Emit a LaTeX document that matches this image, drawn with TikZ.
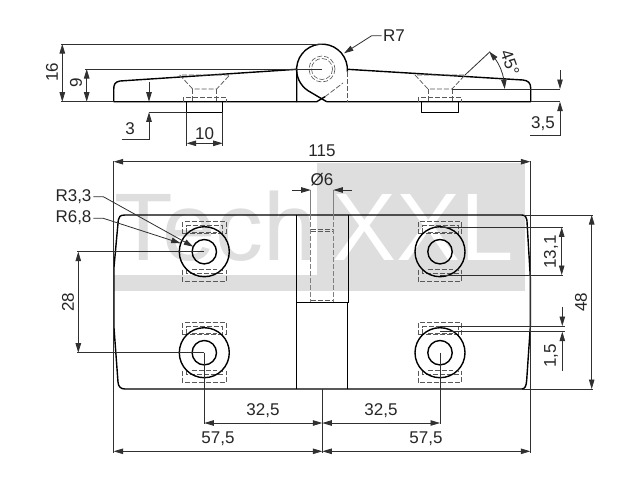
\documentclass[tikz,border=0pt]{standalone}
\usepackage{fontspec}
\setmainfont{Liberation Sans}
\usetikzlibrary{arrows.meta,bending}
\definecolor{wm}{HTML}{DEDEDE}
\definecolor{dimc}{HTML}{303030}
\tikzset{
  outline/.style={draw=black,line width=1.4pt,line join=round},
  thinout/.style={draw=black,line width=1pt},
  hidden/.style={draw=dimc!80,line width=0.75pt,dash pattern=on 5pt off 2pt},
  dim/.style={draw=dimc,line width=0.8pt},
  arr/.style={dim,{Triangle[length=9.5pt,width=5.5pt]}-{Triangle[length=9.5pt,width=5.5pt]}},
  arrend/.style={dim,-{Triangle[length=9.5pt,width=5.5pt]}},
  lab/.style={inner sep=0pt,font=\fontsize{17}{20}\selectfont,text=black!85},
  wmtext/.style={inner sep=0pt,anchor=base west,font=\fontsize{96}{100}\selectfont}
}
\begin{document}
\begin{tikzpicture}[x=1pt,y=-1pt]
\useasboundingbox (0,0) rectangle (640,480);
\fill[white] (0,0) rectangle (640,480);
% watermark
\fill[wm] (317,163) rectangle (525,291);
\fill[wm] (113,275) rectangle (525,291);
\node[wmtext,text=wm] (wmA) at (114,260) {Tech};
\node[wmtext,text=white] (wmB) at (332,260) {XXL};
% side view
\draw[outline] (296.7,101.7) -- (113.7,101.7) -- (113.7,90) .. controls (113.7,84) and (115,82) .. (120,81) -- (296.7,69.3) -- cycle;
\draw[outline] (347.5,69.3) -- (523,80) .. controls (528,80.5) and (530.7,83) .. (530.7,88) -- (530.7,101.7) -- (326.7,101.7);
\draw[outline] (296.7,101.7) -- (316.7,101.7) -- (325,96.7);
\begin{scope}[shift={(322,69.5)}]
\draw[outline] (5:25.4) arc[start angle=5,end angle=-236,radius=25.4] -- (4.7,32.2);
\end{scope}
\draw[hidden] (325,96.7) -- (343,83);
\draw[hidden] (347.7,72) -- (347.7,101.7);
\draw[hidden,line width=0.6pt] (322,69) circle[radius=13];
\draw[hidden,line width=0.6pt] (322,69) circle[radius=10.5];
\foreach \c in {204.7,440}{
  \begin{scope}[shift={(\c,0)}]
  \draw[hidden] (-25,75) -- (-12,89) -- (12,89) -- (25,75) -- cycle;
  \draw[hidden] (-12,89) -- (-12,101);
  \draw[hidden] (12,89) -- (12,101);
  \draw[hidden] (-21.7,101.7) -- (-21.7,97.5) -- (21.7,97.5) -- (21.7,101.7);
  \end{scope}
}
\draw[outline] (186.7,101.7) -- (186.7,112.3) -- (222.7,112.3) -- (222.7,101.7);
\draw[outline] (421.7,101.7) -- (421.7,112.3) -- (458.3,112.3) -- (458.3,101.7);
% top view
\draw[outline] (125,215) -- (521.7,215) .. controls (525,215) and (526.7,217) .. (526.9,220) -- (530.3,277) -- (530.3,327) -- (526.7,380) .. controls (526.3,386) and (525,389) .. (521.7,389) -- (125,389) .. controls (120,389) and (118.3,386) .. (118,382) -- (114,328) -- (114,267) -- (118.3,220) .. controls (118.6,217) and (120,215) .. (125,215) -- cycle;
\draw[outline] (296.7,215) -- (296.7,389);
\draw[outline] (348.5,215) -- (348.5,302.7);
\draw[outline] (347.7,302.7) -- (347.7,389);
\draw[thinout] (296.7,302.7) -- (348.5,302.7);
\foreach \cx/\cy in {204.3/251.7,440/251.7,204.3/352.7,440/352.7}{
  \begin{scope}[shift={(\cx,\cy)}]
  \draw[hidden] (-21.7,-18) -- (-21.7,-30) -- (21.7,-30) -- (21.7,-18) -- cycle;
  \draw[hidden] (-18,-18.5) -- (-18,-26) -- (18,-26) -- (18,-18.5);
  \draw[hidden] (-12.5,-19.4) -- (12.5,-19.4);
  \draw[hidden] (-21.7,18) -- (-21.7,30) -- (21.7,30) -- (21.7,18);
  \draw[hidden] (-18,18) -- (-18,21.5) -- (18,21.5) -- (18,18);
  \draw[hidden] (-12.5,17.3) -- (12.5,17.3);
  \draw[outline] (0,0) circle[radius=25];
  \draw[outline] (0,0) circle[radius=12.2];
  \end{scope}
}
% pin in top view
\draw[hidden,draw=gray] (310.7,215) -- (310.7,302);
\draw[hidden,draw=gray] (333.3,215) -- (333.3,302);
\draw[dim,draw=gray] (310.7,190) -- (310.7,215);
\draw[dim,draw=gray] (333.3,190) -- (333.3,215);
\draw[hidden] (311,229) -- (333,229);
\draw[hidden] (311,231.5) -- (333,231.5);
\draw[hidden] (311,300) -- (333,300);
% dimensions: side view
\draw[dim] (61,44) -- (322,44);
\draw[dim] (61,101.7) -- (113.7,101.7);
\draw[arr] (62.3,44) -- (62.3,101.7);
\node[lab,rotate=90] (d16) at (52,72) {16};
\draw[dim] (85,69) -- (322,69);
\draw[arr] (86.7,69) -- (86.7,101.7);
\node[lab,rotate=90] (d9) at (76,83) {9};
\draw[dim] (149,112.3) -- (186.7,112.3);
\draw[arrend] (149,82) -- (149,101.7);
\draw[arrend] (121.7,139) -- (149,139) -- (149,112.3);
\node[lab] (d3) at (130,129) {3};
\draw[dim] (186.7,112.3) -- (186.7,146);
\draw[dim] (222.7,112.3) -- (222.7,146);
\draw[arr] (186.7,143.3) -- (222.7,143.3);
\node[lab] (d10) at (204.7,134) {10};
\draw[arrend] (381.7,35.7) -- (371.7,35.7) -- (344,53.3);
\node[lab] (r7) at (394,36) {R7};
\draw[dim] (465,75) -- (490,51.7);
\draw[dim] (451.7,89) -- (560,89);
\draw[arr] (504.7,89) arc[start angle=0,end angle=-45,radius=53];
\node[lab,rotate=-70] (a45) at (510,63) {45°};
\draw[dim] (530.7,101.7) -- (560,101.7);
\draw[arrend] (560,70) -- (560,89);
\draw[arrend] (530,135.7) -- (560,135.7) -- (560,101.7);
\node[lab] (d35) at (543,124) {3,5};
% dimensions: top view
\draw[dim] (113.7,161) -- (113.7,453);
\draw[dim] (530.3,161) -- (530.3,453);
\draw[arr] (113.7,161.7) -- (530.3,161.7);
\node[lab] (d115) at (322,151) {115};
\draw[arrend] (292,190) -- (310.7,190);
\draw[arrend] (352,190) -- (333.3,190);
\node[lab] (d6) at (322,180) {Ø6};
\draw[arrend] (93.3,196.7) -- (103.3,196.7) -- (193.3,246.7);
\draw[arrend] (93.3,218.3) -- (103.3,218.3) -- (180.7,243.3);
\node[lab] (r33) at (73.5,196.5) {R3,3};
\node[lab] (r68) at (73.5,218) {R6,8};
\draw[dim] (77,251.7) -- (204.3,251.7);
\draw[dim] (77,352.7) -- (204.3,352.7);
\draw[arr] (78.3,251.7) -- (78.3,352.7);
\node[lab,rotate=90] (d28) at (68,302) {28};
\draw[dim] (524,215) -- (593,215);
\draw[dim] (522,389) -- (593,389);
\draw[arr] (591.7,215) -- (591.7,389);
\node[lab,rotate=90] (d48) at (581,302) {48};
\draw[dim] (440,227.3) -- (563,227.3);
\draw[dim] (440,275) -- (563,275);
\draw[arr] (561.7,227.3) -- (561.7,275);
\node[lab,rotate=90] (d131) at (551,252) {13,1};
\draw[dim] (440,326) -- (565,326);
\draw[dim] (440,331.7) -- (565,331.7);
\draw[arrend] (562.3,307) -- (562.3,326);
\draw[arrend] (562.3,370.7) -- (562.3,331.7);
\node[lab,rotate=90] (d15) at (551,356) {1,5};
\draw[dim] (204.3,352.7) -- (204.3,424);
\draw[dim] (440,352.7) -- (440,424);
\draw[dim] (322.3,389) -- (322.3,453);
\draw[arr] (204.3,423) -- (322.3,423);
\draw[arr] (322.3,423) -- (440,423);
\node[lab] (d325a) at (263,411) {32,5};
\node[lab] (d325b) at (381,411) {32,5};
\draw[arr] (113.7,451.3) -- (322.3,451.3);
\draw[arr] (322.3,451.3) -- (530.3,451.3);
\node[lab] (d575a) at (218,439) {57,5};
\node[lab] (d575b) at (426,439) {57,5};
\end{tikzpicture}
\end{document}
